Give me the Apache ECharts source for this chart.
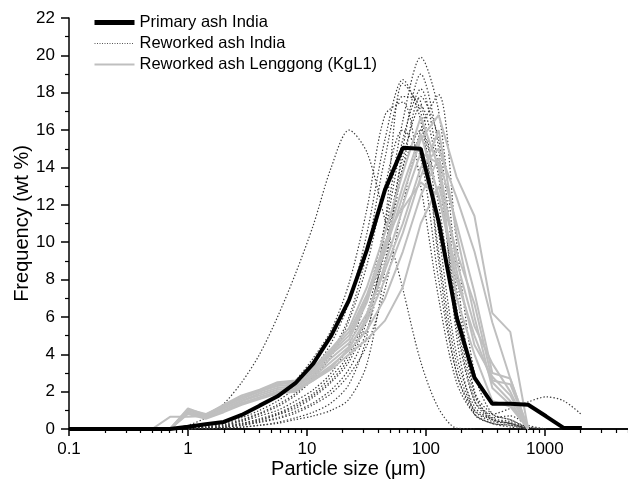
<!DOCTYPE html>
<html>
<head>
<meta charset="utf-8">
<script src="https://cdn.jsdelivr.net/npm/echarts@6/dist/echarts.min.js"></script>
<style>
  html, body { margin: 0; padding: 0; background: #fff; }
  #main { width: 628px; height: 483px; }
</style>
</head>
<body>
<div id="main"></div>
<script>
// particle size classes (um), half-phi steps
var sizes = [0.1, 0.5, 0.707, 1, 1.41, 2, 2.83, 4, 5.66, 8, 11.3, 16, 22.6, 32, 45.3, 64, 90.5, 128, 181, 256, 362, 512, 724, 1024, 1448, 2048];

var majorTicks = [0.1, 1, 10, 100, 1000];
var minorTicks = [0.2, 0.3, 0.4, 0.5, 0.6, 0.7, 0.8, 0.9,
                  2, 3, 4, 5, 6, 7, 8, 9,
                  20, 30, 40, 50, 60, 70, 80, 90,
                  200, 300, 400, 500, 600, 700, 800, 900,
                  2000, 3000, 4000, 5000];

var n = null;

// Primary ash India (wt %)
var primary = [0, 0, 0, 0.12, 0.25, 0.38, 0.75, 1.25, 1.75, 2.45, 3.5, 5.0, 6.9, 9.6, 12.8, 15.05, 15.0, 11.1, 6.0, 2.75, 1.35, 1.35, 1.3, 0.68, 0.05, 0.05];

// Reworked ash India (dotted)
var rwIndia1 = [n, n, 0, 0.2, 0.6, 1.35, 2.5, 4.0, 6.0, 8.3, 10.9, 14.0, 16.0, 14.8, 11.2, 7.5, 3.6, 1.1, 0.05, 0, n, n, n, n, n, n];
var rwIndia2 = [n, n, n, 0, 0.1, 0.2, 0.4, 0.7, 1.0, 1.5, 2.1, 3.0, 4.5, 7.0, 11.0, 16.5, 19.9, 17.0, 8.5, 2.0, 0.8, 0.5, 0.1, 0, n, n];
var rwIndia3 = [n, n, n, 0, 0.15, 0.3, 0.6, 1.0, 1.5, 2.2, 3.2, 4.6, 6.8, 10.5, 15.5, 18.7, 16.5, 9.5, 3.5, 1.0, 0.4, 0.3, 0, n, n, n];
var rwIndia4 = [n, n, n, 0, 0.1, 0.25, 0.5, 0.85, 1.3, 1.9, 2.8, 4.1, 6.0, 9.5, 14.5, 17.8, 17.5, 10.5, 4.0, 1.2, 0.5, 0.3, 0, n, n, n];
var rwIndia5 = [n, n, n, 0, 0.05, 0.15, 0.3, 0.55, 0.85, 1.3, 1.9, 2.8, 4.0, 6.2, 10.5, 15.5, 18.2, 14.0, 6.5, 1.8, 0.6, 0.4, 0.1, 0, n, n];
var rwIndia6 = [n, n, n, 0, 0.05, 0.1, 0.2, 0.35, 0.55, 0.85, 1.3, 1.9, 2.9, 4.5, 7.5, 12.0, 16.0, 17.9, 10.0, 3.0, 0.8, 0.5, 0, n, n, n];
var rwIndia7 = [n, n, n, 0, 0.2, 0.4, 0.75, 1.2, 1.8, 2.6, 3.8, 5.3, 7.8, 11.8, 16.8, 17.5, 13.0, 7.0, 2.5, 0.8, 0.3, 0.2, 0, n, n, n];
var rwIndia8 = [n, n, n, 0, 0.05, 0.1, 0.25, 0.45, 0.75, 1.1, 1.7, 2.5, 3.6, 5.8, 9.8, 14.5, 17.3, 13.5, 6.0, 1.5, 0.5, 0.3, 0, n, n, n];
var rwIndia9 = [n, n, n, 0, 0.05, 0.15, 0.3, 0.5, 0.8, 1.2, 1.8, 2.6, 3.8, 6.0, 9.5, 14.0, 16.0, 12.0, 5.5, 1.5, 0.8, 1.1, 1.45, 1.72, 1.5, 0.75];
var rwIndia10 = [n, n, n, 0, 0.1, 0.2, 0.45, 0.8, 1.2, 1.8, 2.7, 3.9, 5.8, 8.8, 13.0, 16.0, 14.5, 8.0, 3.0, 0.8, 0.3, 0.1, 0, n, n, n];
var rwIndia11 = [n, n, n, n, 0, 0.05, 0.1, 0.2, 0.35, 0.6, 0.9, 1.4, 2.4, 5.0, 11.0, 18.5, 17.0, 9.0, 3.0, 1.0, 0.5, 0.3, 0, n, n, n];
var rwIndia12 = [n, n, n, n, 0, 0.05, 0.1, 0.2, 0.3, 0.5, 0.7, 1.0, 1.6, 3.5, 8.5, 15.0, 19.0, 15.0, 5.0, 0.8, 0.3, 0.2, 0, n, n, n];
var rwIndia13 = [n, n, n, 0, 0.05, 0.1, 0.2, 0.4, 0.6, 0.95, 1.4, 2.1, 3.2, 5.3, 9.0, 14.0, 17.8, 15.5, 7.5, 2.0, 0.6, 0.7, 0.2, 0, n, n];

// Reworked ash Lenggong (KgL1), grey
var kgl1 = [n, n, 0, 1.1, 0.75, 1.3, 1.8, 2.1, 2.5, 2.6, 3.3, 4.3, 5.4, 7.6, 10.5, 13.7, 16.7, 14.0, 7.0, 4.0, 1.5, 1.2, 0, n, n, n];
var kgl2 = [n, 0, 0.65, 0.65, 0.7, 1.2, 1.7, 2.0, 2.4, 2.5, 3.2, 4.1, 5.0, 7.0, 9.5, 12.5, 15.5, 16.8, 13.5, 11.4, 6.2, 5.2, 0, n, n, n];
var kgl3 = [n, n, 0, 1.0, 0.7, 1.1, 1.5, 1.9, 2.2, 2.3, 2.9, 3.8, 4.6, 6.2, 8.5, 11.0, 14.0, 15.0, 12.4, 9.5, 5.7, 2.7, 0, n, n, n];
var kgl4 = [n, n, 0, 0.9, 0.6, 1.0, 1.4, 1.7, 2.0, 2.1, 2.7, 3.4, 4.2, 5.3, 7.0, 9.5, 12.5, 14.5, 11.0, 7.3, 3.0, 2.7, 0, n, n, n];
var kgl5 = [n, n, 0, 0.8, 0.55, 0.9, 1.3, 1.6, 1.9, 2.0, 2.6, 3.2, 4.0, 4.8, 5.8, 7.6, 11.0, 13.0, 9.5, 6.7, 2.6, 2.4, 0, n, n, n];
var kgl6 = [n, n, 0, 1.0, 0.7, 1.2, 1.6, 2.0, 2.3, 2.4, 3.0, 4.0, 4.8, 6.8, 9.8, 13.0, 15.8, 12.5, 8.0, 5.0, 2.5, 1.5, 0, n, n, n];
var kgl7 = [n, n, 0, 0.9, 0.65, 1.1, 1.5, 1.8, 2.1, 2.2, 2.8, 3.6, 4.4, 5.8, 8.0, 10.5, 13.5, 16.0, 10.5, 6.0, 2.2, 1.3, 0, n, n, n];
var kgl8 = [n, n, 0, 1.05, 0.8, 1.25, 1.7, 2.05, 2.4, 2.55, 3.1, 4.2, 5.2, 7.2, 10.0, 12.0, 14.8, 14.2, 9.0, 5.5, 3.5, 2.0, 0, n, n, n];
var kgl9 = [n, n, 0, 0.85, 0.6, 1.0, 1.35, 1.65, 1.95, 2.05, 2.6, 3.3, 4.3, 6.0, 8.8, 11.8, 13.2, 12.5, 8.5, 4.5, 2.8, 1.8, 0, n, n, n];

var dottedSets = [rwIndia1, rwIndia2, rwIndia3, rwIndia4, rwIndia5, rwIndia6, rwIndia7,
                  rwIndia8, rwIndia9, rwIndia10, rwIndia11, rwIndia12, rwIndia13];
var greySets = [kgl1, kgl2, kgl3, kgl4, kgl5, kgl6, kgl7, kgl8, kgl9];

function pairs(vals) {
    var out = [];
    for (var i = 0; i < sizes.length; i++) {
        out.push([sizes[i], vals[i]]);
    }
    return out;
}

var dotColor = '#3a3a3a', greyColor = '#bfbfbf';
var series = [];
dottedSets.forEach(function (d) {
    series.push({
        name: 'Reworked ash India',
        type: 'line',
        data: pairs(d),
        symbol: 'none',
        smooth: 0.3,
        z: 2,
        itemStyle: { color: dotColor },
        lineStyle: { color: dotColor, width: 1.2, type: [1.4, 2] }
    });
});
greySets.forEach(function (d) {
    series.push({
        name: 'Reworked ash Lenggong (KgL1)',
        type: 'line',
        data: pairs(d),
        symbol: 'none',
        z: 3,
        itemStyle: { color: greyColor },
        lineStyle: { color: greyColor, width: 2 }
    });
});
series.push({
    name: 'Primary ash India',
    type: 'line',
    data: pairs(primary),
    symbol: 'none',
    z: 4,
    itemStyle: { color: '#000' },
    lineStyle: { color: '#000', width: 4 }
});

var font = 'Liberation Sans, Arial, sans-serif';
var chart = echarts.init(document.getElementById('main'));
var option = {
    animation: false,
    backgroundColor: '#fff',
    grid: { left: 69, right: 0, top: 18, bottom: 54, outerBoundsMode: 'none', containLabel: false },
    legend: {
        data: [
            { name: 'Primary ash India', lineStyle: { color: '#000', width: 5 } },
            { name: 'Reworked ash India', lineStyle: { color: '#555', width: 1, type: [1, 1.5] } },
            { name: 'Reworked ash Lenggong (KgL1)', lineStyle: { color: greyColor, width: 2 } }
        ],
        orient: 'vertical',
        left: 87,
        top: 9,
        itemWidth: 40,
        itemHeight: 14,
        itemGap: 4,
        itemStyle: { opacity: 0 },
        textStyle: { fontFamily: font, fontSize: 16.5, color: '#000' }
    },
    xAxis: [{
        type: 'log',
        logBase: 10,
        min: 0.1,
        max: 5000,
        gridIndex: 0,
        name: 'Particle size (\u03bcm)',
        nameLocation: 'middle',
        nameGap: 30,
        nameMoveOverlap: false,
        nameTextStyle: { fontFamily: font, fontSize: 20, color: '#000' },
        axisLine: { lineStyle: { color: '#000', width: 1.5 } },
        axisTick: { show: true, length: 7, customValues: majorTicks, lineStyle: { color: '#000', width: 1.5 } },
        axisLabel: {
            customValues: majorTicks,
            margin: 12,
            fontFamily: font, fontSize: 17, color: '#000',
            formatter: function (v) { return String(v); }
        },
        splitLine: { show: false },
        minorTick: { show: false }
    }, {
        type: 'log',
        logBase: 10,
        min: 0.1,
        max: 5000,
        gridIndex: 0,
        position: 'bottom',
        axisLine: { show: true, lineStyle: { color: '#000', width: 1.5 } },
        axisTick: { show: true, length: 4, customValues: minorTicks, lineStyle: { color: '#000', width: 1.2 } },
        axisLabel: { show: false },
        splitLine: { show: false }
    }],
    yAxis: {
        type: 'value',
        min: 0,
        max: 22,
        interval: 2,
        name: 'Frequency (wt %)',
        nameLocation: 'middle',
        nameGap: 37,
        nameMoveOverlap: false,
        nameTextStyle: { fontFamily: font, fontSize: 20, color: '#000' },
        axisLine: { show: true, lineStyle: { color: '#000', width: 1.5 } },
        axisTick: { show: true, length: 8, lineStyle: { color: '#000', width: 1.5 } },
        minorTick: { show: true, splitNumber: 2, length: 4, lineStyle: { color: '#000', width: 1.2 } },
        axisLabel: { margin: 14, fontFamily: font, fontSize: 17, color: '#000' },
        splitLine: { show: false }
    },
    series: series
};
chart.setOption(option);
</script>
</body>
</html>
